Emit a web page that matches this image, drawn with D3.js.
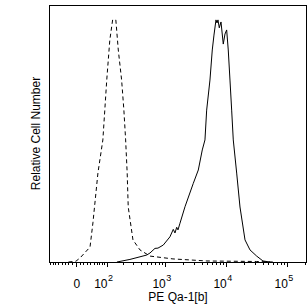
<!DOCTYPE html>
<html>
<head>
<meta charset="utf-8">
<script src="https://cdn.jsdelivr.net/npm/d3@7"></script>
<style>
  body { margin: 0; background: #fff; }
  svg { display: block; }
  text { font-family: "Liberation Sans", Arial, sans-serif; fill: #000; }
</style>
</head>
<body>
<svg id="chart" width="308" height="306"></svg>
<script>
// isotype control (dashed) : intensity, relative count
const isoX = [-20, 0, 11, 39, 48, 65, 84, 101, 116, 131, 150, 166, 190, 208, 223, 237, 247, 297, 389, 570, 1360, 4900, 32000, 60000];
const isoY = [0, 0.3, 1.6, 5.8, 15.2, 34.6, 47.5, 70.8, 86.4, 94.2, 94.2, 82.5, 70.8, 59.1, 47.5, 34.6, 21.4, 8.6, 4.7, 2.3, 1.2, 0.4, 0.2, 0];

// PE Qa-1[b] stained (solid)
const stainX = [157, 264, 503, 570, 689, 772, 944, 1214, 1377, 1468, 1567, 1645, 1775, 2143, 2932, 3542, 4114, 4555, 4855, 5500, 6000, 6400, 6900, 7170, 7440, 7820, 8340, 9090, 9690, 10330, 10970, 11700, 12470, 13250, 15070, 17080, 20640, 24900, 32060, 40660, 53000];
const stainY = [0, 1.0, 2.7, 3.5, 5.3, 5.4, 6.6, 9.8, 12.7, 11.3, 13.5, 12.5, 15.1, 21.5, 30.6, 35.8, 43.6, 47.5, 59.1, 70.8, 82.5, 88.3, 94.2, 93.0, 94.2, 91.1, 93.4, 84.8, 88.7, 90.3, 82.5, 70.8, 59.1, 47.5, 34.6, 21.4, 8.6, 4.7, 2.3, 0.4, 0];

const majorTicks = [0, 100, 1000, 10000, 100000];
const tickBase = ["0", "10", "10", "10", "10"];
const tickExp = ["", "2", "3", "4", "5"];
const xTitle = "PE Qa-1[b]";
const yTitle = "Relative Cell Number";

const pLeft = 49, pRight = 307, pTop = 5, pBottom = 262;

// biexponential-like transform
const T = v => Math.asinh(v / 70) / Math.LN10;
const xs = d3.scaleLinear().domain([T(-84), T(214000)]).range([pLeft, pRight]);
const x = v => xs(T(v));
const y = d3.scaleLinear().domain([0, 100]).range([pBottom, pTop]);

const svg = d3.select("#chart");

// minor ticks
const minor = [];
for (let m = 1; m <= 8; m++) minor.push(-10 * m);
for (let m = 1; m <= 9; m++) minor.push(10 * m);
[100, 1000, 10000, 100000].forEach(d => {
  for (let m = 2; m <= 9; m++) if (d * m <= 214000) minor.push(d * m);
});

svg.append("g")
  .selectAll("line")
  .data(minor)
  .join("line")
    .attr("x1", d => Math.round(x(d)) + 0.5)
    .attr("x2", d => Math.round(x(d)) + 0.5)
    .attr("y1", pBottom)
    .attr("y2", pBottom + 3)
    .attr("stroke", "#000")
    .attr("shape-rendering", "crispEdges");

svg.append("g")
  .selectAll("line")
  .data(majorTicks)
  .join("line")
    .attr("x1", d => Math.round(x(d)) + 0.5)
    .attr("x2", d => Math.round(x(d)) + 0.5)
    .attr("y1", pBottom)
    .attr("y2", pBottom + 5)
    .attr("stroke", "#000")
    .attr("shape-rendering", "crispEdges");

// tick labels
const lab = svg.append("g");
majorTicks.forEach((d, i) => {
  const px = x(d);
  if (tickExp[i] === "") {
    lab.append("text").attr("x", px + 1).attr("y", 288)
      .attr("text-anchor", "middle").attr("font-size", 12).text(tickBase[i]);
  } else {
    lab.append("text").attr("x", px + 1).attr("y", 288)
      .attr("text-anchor", "end").attr("font-size", 12).text(tickBase[i]);
    lab.append("text").attr("x", px + 1.5).attr("y", 281)
      .attr("font-size", 9).text(tickExp[i]);
  }
});

// curves
const line = d3.line().x(d => x(d[0])).y(d => y(d[1]));

svg.append("path")
  .datum(d3.zip(isoX, isoY))
  .attr("d", line)
  .attr("fill", "none")
  .attr("stroke", "#000")
  .attr("stroke-width", 1)
  .attr("stroke-dasharray", "4,3");

svg.append("path")
  .datum(d3.zip(stainX, stainY))
  .attr("d", line)
  .attr("fill", "none")
  .attr("stroke", "#000")
  .attr("stroke-width", 1);

// frame
svg.append("rect")
  .attr("x", pLeft + 0.5).attr("y", pTop + 0.5)
  .attr("width", pRight - pLeft - 1).attr("height", pBottom - pTop)
  .attr("fill", "none").attr("stroke", "#000")
  .attr("shape-rendering", "crispEdges");

// titles
svg.append("text")
  .attr("x", (pLeft + pRight) / 2).attr("y", 301)
  .attr("text-anchor", "middle").attr("font-size", 12)
  .text(xTitle);

svg.append("text")
  .attr("transform", `translate(40,${(pTop + pBottom) / 2}) rotate(-90)`)
  .attr("text-anchor", "middle").attr("font-size", 12)
  .text(yTitle);
</script>
</body>
</html>
